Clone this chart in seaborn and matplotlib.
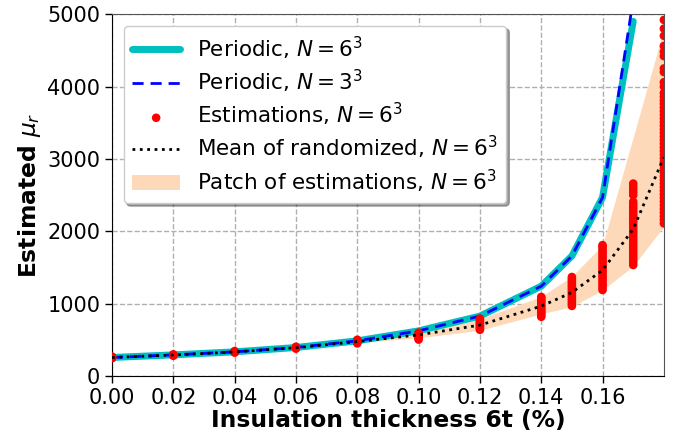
import numpy as np
import pandas as pd
import matplotlib
matplotlib.use('Agg')
import matplotlib.pyplot as plt
import seaborn as sns

# insulation thickness values
thickness = [0.00, 0.02, 0.04, 0.06, 0.08, 0.10, 0.12, 0.14, 0.15, 0.16, 0.17, 0.18]

periodic_6 = [258, 294, 336, 396, 488, 626, 830, 1243, 1660, 2470, 4900, np.nan]
periodic_3 = [258, 294, 336, 396, 488, 626, 830, 1243, 1660, 2470, 5200, np.nan]

mean_rand = [258, 292, 335, 393, 478, 570, 705, 967, 1156, 1464, 2030, 3025]
patch_low = [250, 285, 328, 383, 463, 530, 635, 860, 960, 1190, 1520, 2070]
patch_high = [266, 300, 345, 405, 495, 610, 790, 1100, 1380, 1810, 3300, 4800]

# estimations for each thickness
estimations = {
    0.00: [248, 254, 259, 264, 270],
    0.02: [282, 289, 295, 301],
    0.04: [325, 332, 339, 347],
    0.06: [380, 389, 397, 407],
    0.08: [452, 466, 478, 490, 503],
    0.10: [505, 522, 538, 552, 568, 585, 602],
    0.12: [640, 655, 670, 685, 700, 715, 730, 745, 760, 778, 795],
    0.14: [820, 840, 860, 880, 900, 920, 940, 960, 980, 1000, 1020, 1040, 1060, 1080, 1095],
    0.15: [970, 995, 1020, 1045, 1070, 1095, 1120, 1145, 1170, 1195, 1220, 1245, 1270, 1295,
           1320, 1345, 1370],
    0.16: [1190, 1220, 1250, 1280, 1310, 1340, 1370, 1400, 1430, 1460, 1490, 1520, 1550, 1580,
           1610, 1640, 1670, 1700, 1730, 1760, 1790, 1810],
    0.17: [1535, 1570, 1605, 1640, 1675, 1710, 1745, 1780, 1815, 1850, 1885, 1920, 1955, 1990,
           2025, 2060, 2095, 2130, 2165, 2200, 2235, 2270, 2305, 2340, 2375, 2410, 2500, 2540,
           2580, 2620, 2660],
    0.18: [2110, 2160, 2210, 2260, 2310, 2360, 2410, 2460, 2510, 2560, 2610, 2660, 2710, 2760,
           2810, 2860, 2910, 2960, 3010, 3060, 3110, 3160, 3210, 3260, 3310, 3360, 3410, 3460,
           3510, 3560, 3610, 3660, 3710, 3760, 3810, 3860, 3910, 4000, 4060, 4200, 4250, 4420,
           4480, 4560, 4700, 4800, 4920],
}

est_x = [t for t, vals in estimations.items() for v in vals]
est_y = [v for t, vals in estimations.items() for v in vals]
df_est = pd.DataFrame({'t': est_x, 'mu': est_y})

df = pd.DataFrame({'t': thickness, 'p6': periodic_6, 'p3': periodic_3, 'mean': mean_rand,
                   'low': patch_low, 'high': patch_high})

sns.set_style('ticks')
plt.rcParams['font.family'] = ['DejaVu Sans']
plt.rcParams['text.color'] = 'k'
plt.rcParams['axes.labelcolor'] = 'k'
plt.rcParams['xtick.color'] = 'k'
plt.rcParams['ytick.color'] = 'k'

fig, ax = plt.subplots(figsize=(6.83, 4.41), dpi=100)
fig.subplots_adjust(left=0.164, right=0.972, bottom=0.147, top=0.968)

sns.lineplot(data=df, x='t', y='p6', ax=ax, color='c', lw=5, label=r'Periodic, $N=6^3$', zorder=2)
sns.lineplot(data=df, x='t', y='p3', ax=ax, color='b', lw=2, dashes=(4, 2.5), label=r'Periodic, $N=3^3$', zorder=3)
sns.scatterplot(data=df_est, x='t', y='mu', ax=ax, color='r', s=38, edgecolor='none',
                label=r'Estimations, $N=6^3$', zorder=4)
sns.lineplot(data=df, x='t', y='mean', ax=ax, color='k', lw=2, linestyle=':', label=r'Mean of randomized, $N=6^3$', zorder=5)
ax.fill_between(df['t'], df['low'], df['high'], color='#fdd9b9', lw=0, zorder=1,
                label=r'Patch of estimations, $N=6^3$')
for coll in ax.collections:
    coll.set_clip_on(True)

ax.set_xlim(0, 0.18)
ax.set_ylim(0, 5000)
ax.set_xticks([0.00, 0.02, 0.04, 0.06, 0.08, 0.10, 0.12, 0.14, 0.16])
ax.set_yticks([0, 1000, 2000, 3000, 4000, 5000])
ax.tick_params(labelsize=15, length=5, width=1, color='k', labelcolor='k')
ax.grid(True, linestyle='--', color='#b0b0b0', lw=1)
for s in ['top', 'right']:
    ax.spines[s].set_color('#555555')
for s in ['left', 'bottom']:
    ax.spines[s].set_color('k')

ax.set_xlabel('Insulation thickness 6t (%)', fontsize=16.8, fontweight='bold', labelpad=1)
ax.set_ylabel(r'Estimated $\mu_r$', fontsize=16.8, fontweight='bold', labelpad=3)

ax.legend(loc='upper left', fontsize=15.5, frameon=True, shadow=True, fancybox=True,
          borderaxespad=0.55, handlelength=2.2, framealpha=1, labelspacing=0.28)

fig.savefig('out.png', dpi=100)
